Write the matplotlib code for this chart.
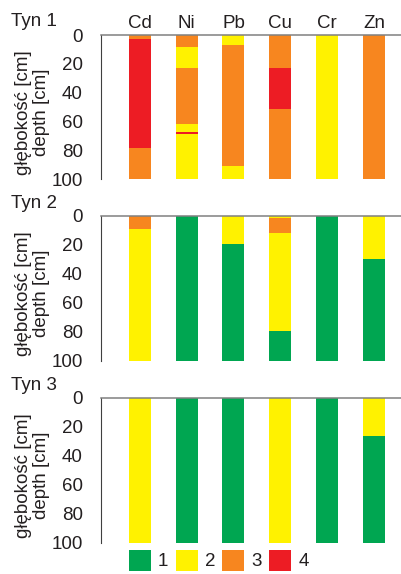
import matplotlib
matplotlib.use("Agg")
import matplotlib.pyplot as plt
from matplotlib.patches import Rectangle
from matplotlib import font_manager

# pick a narrow font if there is one
names = set(f.name for f in font_manager.fontManager.ttflist)
if "Liberation Sans Narrow" in names:
    plt.rcParams["font.family"] = ["Liberation Sans Narrow", "DejaVu Sans"]
    fs = 14.5
else:
    plt.rcParams["font.family"] = ["Liberation Sans", "DejaVu Sans"]
    fs = 13.5

metals = ["Cd", "Ni", "Pb", "Cu", "Cr", "Zn"]
panels = ["Tyn 1", "Tyn 2", "Tyn 3"]
classes = ["1", "2", "3", "4"]
colors = {1: "#00a651", 2: "#fff200", 3: "#f7861f", 4: "#ed1c24"}

# layer boundaries (depth, cm) and class of each layer, per metal
tyn1_depths = [[0, 3, 78, 100],
               [0, 8, 22.7, 61.3, 67, 68.3, 100],
               [0, 7, 90.7, 100],
               [0, 22.5, 51.4, 100],
               [0, 100],
               [0, 100]]
tyn1_classes = [[3, 4, 3],
                [3, 2, 3, 2, 4, 2],
                [2, 3, 2],
                [3, 4, 3],
                [2],
                [3]]

tyn2_depths = [[0, 9, 100],
               [0, 100],
               [0, 19.4, 100.5],
               [0, 1.5, 12, 79.6, 100],
               [0, 100],
               [0, 30, 100]]
tyn2_classes = [[3, 2],
                [1],
                [2, 1],
                [2, 3, 2, 1],
                [1],
                [2, 1]]

tyn3_depths = [[0, 100],
               [0, 100],
               [0, 100],
               [0, 101],
               [0, 100],
               [0, 26, 100]]
tyn3_classes = [[2],
                [1],
                [1],
                [2],
                [1],
                [2, 1]]

all_depths = [tyn1_depths, tyn2_depths, tyn3_depths]
all_classes = [tyn1_classes, tyn2_classes, tyn3_classes]

W, H = 402, 574
fig = plt.figure(figsize=(W / 100, H / 100), dpi=100)

tops = [35, 216, 398]
bar_w = 0.47

for p in range(3):
    top = tops[p]
    ax = fig.add_axes([101 / W, 1 - (top + 144.5) / H, (W - 101) / W, 144.5 / H])
    for i in range(len(metals)):
        d = all_depths[p][i]
        for k, c in enumerate(all_classes[p][i]):
            ax.bar(i, d[k + 1] - d[k], bottom=d[k], width=bar_w,
                   color=colors[c], linewidth=0)
    ax.set_xlim(-0.83, 5.6)
    ax.set_ylim(100, 0)
    ax.set_xticks([])
    ax.set_yticks([0, 20, 40, 60, 80, 100])
    ax.tick_params(axis="y", length=0, pad=13, labelsize=fs, colors="#231f20")
    ax.set_yticks([0, 100], minor=True)
    ax.tick_params(axis="y", which="minor", length=3, width=1, color="#404040")
    for s in ["right", "bottom"]:
        ax.spines[s].set_visible(False)
    ax.spines["left"].set_color("#404040")
    ax.spines["top"].set_color("#808080")
    ax.spines["top"].set_linewidth(1.1)
    ax.text(-0.2276, 0.462, "głębokość [cm]\ndepth [cm]", transform=ax.transAxes,
            rotation=90, ha="center", va="center", fontsize=fs,
            linespacing=1.05, color="#231f20")
    fig.text(11 / W, 1 - (top - 13) / H, panels[p], ha="left", va="center",
             fontsize=fs, color="#231f20")
    if p == 0:
        for i, m in enumerate(metals):
            ax.text(i, -8.3, m, ha="center", va="center", fontsize=fs,
                    color="#231f20")
    if p == 2:
        for i, c in enumerate(classes):
            ax.add_patch(Rectangle((i - bar_w / 2, 105), bar_w, 15,
                                   color=colors[i + 1], clip_on=False, linewidth=0))
            ax.text(i + bar_w / 2 + 0.15, 113, c, ha="left", va="center",
                    fontsize=fs, color="#231f20")

fig.savefig("out.png", dpi=100)
